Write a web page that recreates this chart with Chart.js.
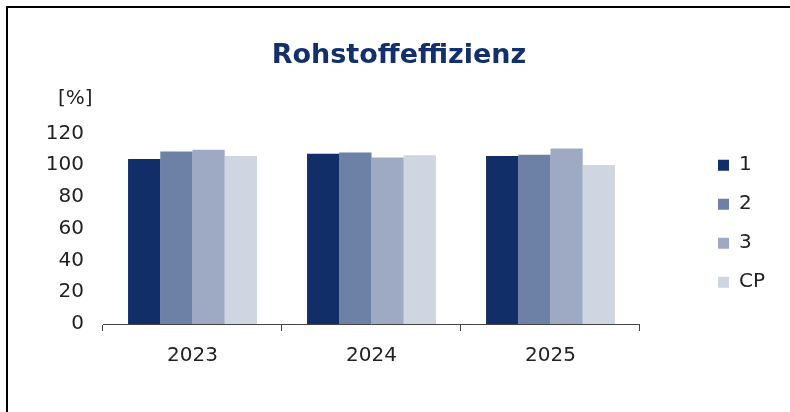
<!DOCTYPE html>
<html>
<head>
<meta charset="utf-8">
<script src="https://cdn.jsdelivr.net/npm/chart.js@4/dist/chart.umd.min.js"></script>
<style>
  html, body { margin: 0; padding: 0; background: #fff; }
  #wrap { position: relative; width: 790px; height: 412px; overflow: hidden; }
  #frame { position: absolute; left: 6px; top: 6px; right: -10px; bottom: -10px;
           border-top: 2px solid #000; border-left: 2px solid #000; pointer-events: none; }
  canvas { position: absolute; left: 0; top: 0; }
</style>
</head>
<body>
<div id="wrap">
  <canvas id="c" width="790" height="412"></canvas>
  <div id="frame"></div>
</div>
<script>
const categories = ["2023", "2024", "2025"];
const seriesNames = ["1", "2", "3", "CP"];
const series1 = [103.9, 107.2, 105.7];
const series2 = [108.6, 108.0, 106.6];
const series3 = [109.7, 104.9, 110.5];
const seriesCP = [105.8, 106.3, 100.1];
const yTicks = [0, 20, 40, 60, 80, 100, 120];
const titleText = "Rohstoffeffizienz";
const unitLabel = "[%]";

const colors = ["#112e68", "#6d80a5", "#9eaac3", "#cfd5e1"];
const allSeries = [series1, series2, series3, seriesCP];
const FONT = "'DejaVu Sans', Verdana, sans-serif";

const unitPlugin = {
  id: 'unitLabel',
  afterLayout(chart) {
    const L = chart.legend;
    if (L) {
      const dx = 699 - L.left;
      const dy = -5;
      L.left += dx; L.right += dx; L.top += dy; L.bottom += dy;
    }
  },
  afterDraw(chart) {
    const ctx = chart.ctx;
    const y = chart.scales.y;
    ctx.save();
    ctx.font = "20px " + FONT;
    ctx.fillStyle = "#222";
    ctx.textAlign = "left";
    ctx.textBaseline = "middle";
    ctx.fillText(unitLabel, 58, y.getPixelForValue(120) - 35);
    ctx.restore();
  }
};

new Chart(document.getElementById('c'), {
  type: 'bar',
  data: {
    labels: categories,
    datasets: seriesNames.map((n, i) => ({
      label: n,
      data: allSeries[i],
      backgroundColor: colors[i],
      borderWidth: 0,
      categoryPercentage: 0.72,
      barPercentage: 1.0
    }))
  },
  options: {
    responsive: false,
    animation: false,
    devicePixelRatio: 1,
    layout: { padding: { top: 8, left: 8, right: 0, bottom: 31 } },
    plugins: {
      title: {
        display: true,
        text: titleText,
        color: "#13306b",
        font: { family: FONT, size: 27, weight: 'bold' },
        padding: { top: 32, bottom: 61 }
      },
      legend: {
        display: true,
        position: 'right',
        fullSize: false,
        align: 'center',
        labels: {
          boxWidth: 11,
          boxHeight: 11,
          padding: 19,
          color: "#222",
          font: { family: FONT, size: 20 }
        }
      },
      tooltip: { enabled: false }
    },
    scales: {
      x: {
        offset: true,
        grid: { display: true, drawOnChartArea: false, drawTicks: true, tickLength: 7, color: "#444", offset: true },
        border: { display: true, color: "#444", width: 1 },
        ticks: { color: "#222", padding: 13, font: { family: FONT, size: 20 } }
      },
      y: {
        min: 0,
        max: 120,
        afterFit(s) { s.width = 95; },
        afterBuildTicks(s) { s.ticks = yTicks.map(v => ({ value: v })); },
        grid: { display: false, drawTicks: false },
        border: { display: false },
        ticks: { color: "#222", padding: 19, font: { family: FONT, size: 20 } }
      },
      gap: {
        type: 'linear',
        position: 'right',
        display: true,
        grid: { display: false, drawTicks: false },
        border: { display: false },
        ticks: { display: false },
        afterFit(s) { s.width = 74; }
      }
    }
  },
  plugins: [unitPlugin]
});
</script>
</body>
</html>
